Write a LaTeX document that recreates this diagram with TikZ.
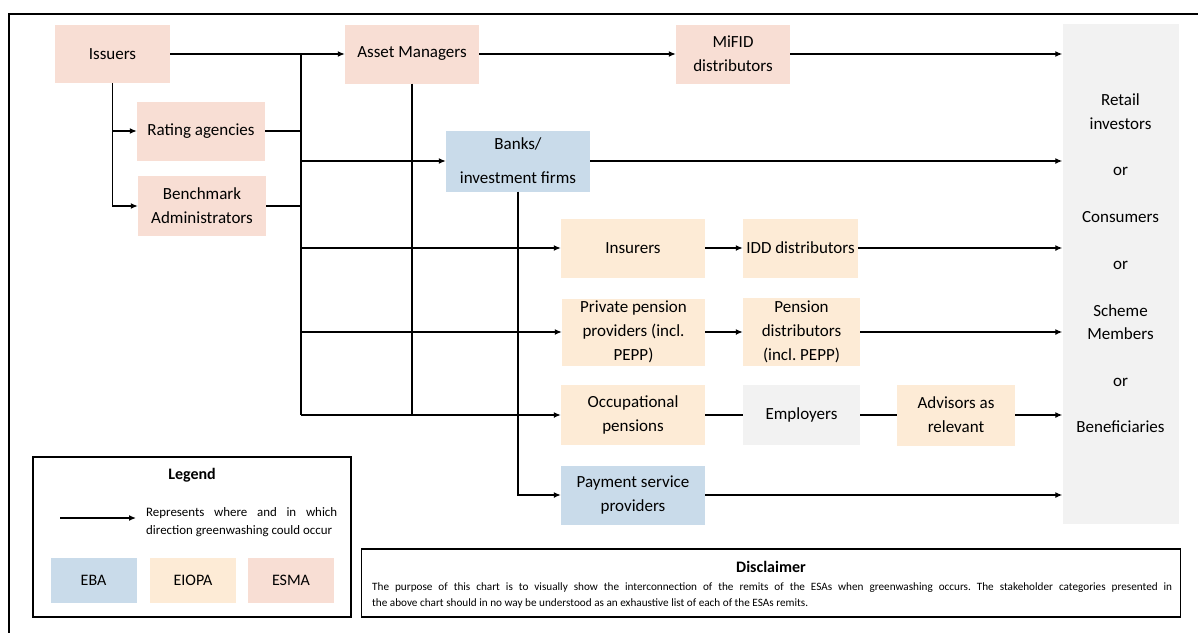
\documentclass[tikz,border=0pt]{standalone}
\usepackage{fontspec}
\setmainfont{Carlito}
\usepackage{xcolor}
\usetikzlibrary{arrows.meta}
\definecolor{esmac}{RGB}{248,222,212}
\definecolor{eiopac}{RGB}{253,235,214}
\definecolor{ebac}{RGB}{201,219,234}
\definecolor{greyc}{RGB}{242,242,242}

\tikzset{
  box/.style={inner sep=0pt, align=center, font=\fontsize{17}{24}\selectfont},
  esma/.style={box, fill=esmac},
  eiopa/.style={box, fill=eiopac},
  eba/.style={box, fill=ebac},
  other/.style={box, fill=greyc},
  arr/.style={-{Latex[length=7pt,width=6pt]}, line width=1.3pt},
  ln/.style={line width=1.3pt},
}

\begin{document}
\frenchspacing
\hyphenpenalty=10000
\begin{tikzpicture}[x=1pt,y=-1pt]
  \useasboundingbox (0,0) rectangle (1198,632);
  \draw[line width=2.5pt] (9,14) rectangle (1220,650);

  % ESMA
  \node[esma, minimum width=115pt, minimum height=58pt] (iss) at (112.5,54) {Issuers};
  \node[esma, minimum width=134pt, minimum height=59pt] (am) at (412,54) {Asset Managers};
  \node[esma, minimum width=114pt, minimum height=59pt] (mifid) at (733,54) {MiFID\\distributors};
  \node[esma, minimum width=128pt, minimum height=59pt] (rat) at (201,131) {Rating agencies};
  \node[esma, minimum width=128pt, minimum height=60pt] (bench) at (202,206) {Benchmark\\Administrators};
  % EBA
  \node[eba, minimum width=144pt, minimum height=61pt] (banks) at (518,161) {Banks/\\[10pt]investment firms};
  \node[eba, minimum width=144pt, minimum height=59pt] (pay) at (633,495) {Payment service\\providers};
  % EIOPA
  \node[eiopa, minimum width=144pt, minimum height=59pt] (ins) at (633,248) {Insurers};
  \node[eiopa, minimum width=115pt, minimum height=59pt] (idd) at (800.5,248) {IDD distributors};
  \node[eiopa, minimum width=143pt, minimum height=67pt] (ppp) at (633.5,332) {Private pension\\providers (incl.\\PEPP)};
  \node[eiopa, minimum width=117pt, minimum height=68pt] (pdist) at (801.5,332) {Pension\\distributors\\(incl. PEPP)};
  \node[eiopa, minimum width=144pt, minimum height=60pt] (occ) at (633,415) {Occupational\\pensions};
  \node[other, minimum width=117pt, minimum height=60pt] (emp) at (801.5,415) {Employers};
  \node[eiopa, minimum width=118pt, minimum height=61pt] (adv) at (956,415) {Advisors as\\relevant};
  % end users
  \node[other, minimum width=116pt, minimum height=500pt] (ret) at (1120.5,274) {};
  \node[box, font=\fontsize{17}{23.36}\selectfont] (rettext) at (1120.5,263.5)
    {Retail\\investors\\~\\or\\~\\Consumers\\~\\or\\~\\Scheme\\Members\\~\\or\\~\\Beneficiaries};

  \coordinate (bus) at (301,0);

  \draw[arr] (iss.east) -- (am.west);
  \draw[arr] (iss.south) |- (rat.west);
  \draw[arr] (iss.south) |- (bench.west);
  \draw[ln] (rat.east) -- (rat.east -| bus);
  \draw[ln] (bench.east) -- (bench.east -| bus);
  \draw[line width=1.6pt] (bus |- iss.east) -- (bus |- occ.west);
  \draw[arr] (bus |- banks.west) -- (banks.west);
  \draw[arr] (bus |- ins.west) -- (ins.west);
  \draw[arr] (bus |- ppp.west) -- (ppp.west);
  \draw[arr] (bus |- occ.west) -- (occ.west);
  \draw[ln] (am.south) -- (am.south |- occ.west);
  \draw[arr] (banks.south) |- (pay.west);

  \draw[arr] (am.east) -- (mifid.west);
  \draw[arr] (mifid.east) -- (mifid.east -| ret.west);
  \draw[arr] (banks.east) -- (banks.east -| ret.west);
  \draw[arr] (ins.east) -- (idd.west);
  \draw[arr] (idd.east) -- (idd.east -| ret.west);
  \draw[arr] (ppp.east) -- (pdist.west);
  \draw[arr] (pdist.east) -- (pdist.east -| ret.west);
  \draw[ln] (occ.east) -- (emp.west);
  \draw[ln] (emp.east) -- (adv.west);
  \draw[arr] (adv.east) -- (adv.east -| ret.west);
  \draw[arr] (pay.east) -- (pay.east -| ret.west);

  % legend
  \node[draw, line width=1.2pt, minimum width=318pt, minimum height=160pt] (leg) at (192,537) {};
  \node[font=\fontsize{16}{19}\selectfont\bfseries] (legtitle) at (192,475) {Legend};
  \coordinate (la) at (60,518);
  \coordinate (lb) at (136,518);
  \draw[arr] (la) -- (lb);
  \node[anchor=west, inner sep=0pt, text width=191pt, align=justify,
    font=\fontsize{12.9}{18}\selectfont] (legtext) at (146,522)
    {Represents where and in which direction greenwashing could occur};
  \node[eba, font=\fontsize{16}{20}\selectfont, minimum width=86pt, minimum height=45pt] (leba) at (93.5,580.5) {EBA};
  \node[eiopa, font=\fontsize{16}{20}\selectfont, minimum width=86pt, minimum height=45pt] (leiopa) at (193,580.5) {EIOPA};
  \node[esma, font=\fontsize{16}{20}\selectfont, minimum width=86pt, minimum height=45pt] (lesma) at (291,580.5) {ESMA};

  % disclaimer
  \node[draw, line width=1.2pt, minimum width=819pt, minimum height=68pt] (disc) at (771,583) {};
  \node[font=\fontsize{16}{19}\selectfont\bfseries] (disctitle) at (771,567) {Disclaimer};
  \node[anchor=west, inner sep=0pt, text width=800pt, align=justify,
    font=\fontsize{11.2}{16}\selectfont] (disctext) at (372,595.5)
    {The purpose of this chart is to visually show the interconnection of the remits of the ESAs when greenwashing occurs. The stakeholder categories presented in\linebreak the above chart should in no way be understood as an exhaustive list of each of the ESAs remits.};
\end{tikzpicture}
\end{document}
